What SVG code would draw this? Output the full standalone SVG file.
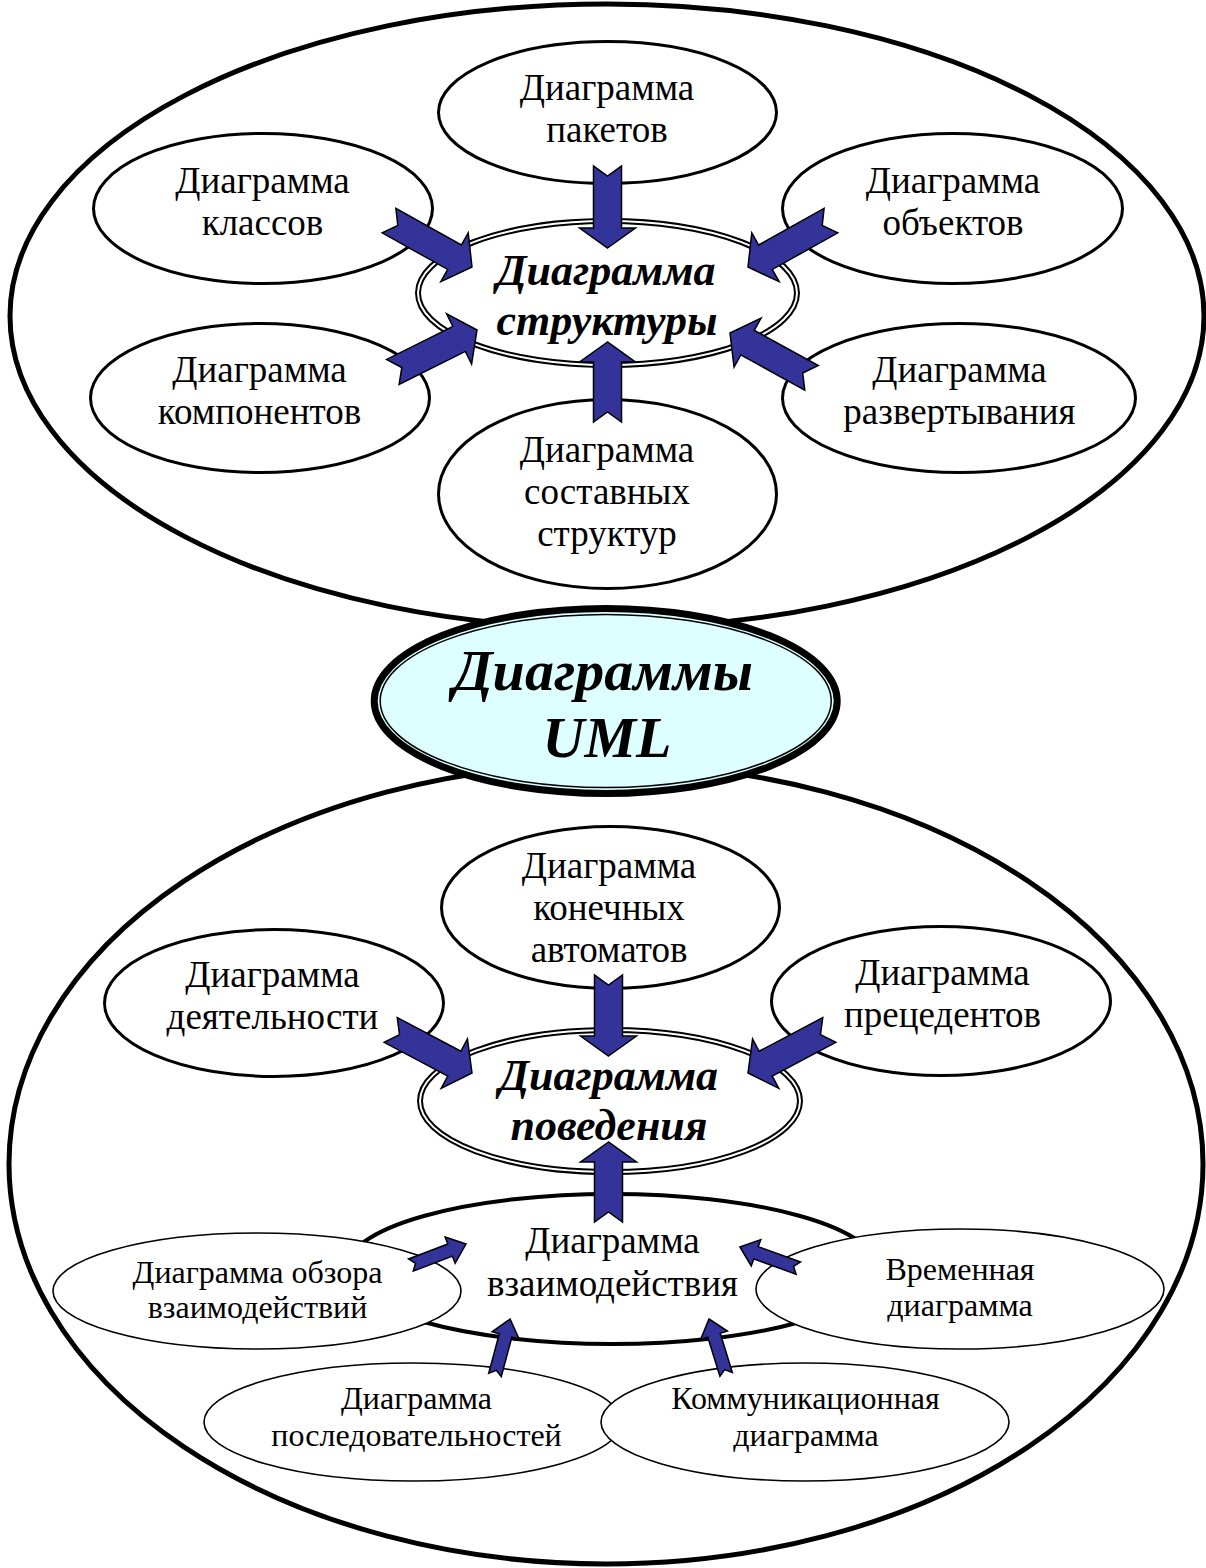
<svg xmlns="http://www.w3.org/2000/svg" width="1206" height="1568" viewBox="0 0 1206 1568">
  <style>
    .big { fill: none; stroke: #000; stroke-width: 5; }
    .node { fill: #fff; stroke: #000; stroke-width: 3; }
    .small { fill: #fff; stroke: #000; stroke-width: 1.6; }
    .mid { fill: #fff; stroke: #000; stroke-width: 4; }
    .dbl-out { fill: #fff; stroke: #000; stroke-width: 6; }
    .dbl-in { fill: none; stroke: #fff; stroke-width: 2; }
    .uml-out { fill: #ddffff; stroke: #000; stroke-width: 7; }
    .uml-in { fill: none; stroke: #000; stroke-width: 1.5; }
    .arrow { fill: #333399; stroke: #000; stroke-width: 1.5; stroke-linejoin: miter; }
    text { font-family: "Liberation Serif", "Times New Roman", serif; text-anchor: middle; fill: #000; }
    .t { font-size: 37px; }
    .ts { font-size: 32px; }
    .tb { font-size: 44px; font-weight: bold; font-style: italic; }
    .tu { font-size: 58px; font-weight: bold; font-style: italic; }
  </style>

  <!-- outer group outlines -->
  <g id="structure-group">
    <ellipse class="big" cx="607" cy="316" rx="597" ry="312"/>
  </g>
  <g id="behavior-group">
    <ellipse class="big" cx="606" cy="1164" rx="597" ry="400"/>
  </g>

  <!-- structure diagrams -->
  <g id="packages">
    <ellipse class="node" cx="607.5" cy="112.5" rx="169" ry="71"/>
    <text class="t" x="607" y="100">Диаграмма</text>
    <text class="t" x="607" y="142">пакетов</text>
  </g>
  <g id="classes">
    <ellipse class="node" cx="263" cy="208.5" rx="169.5" ry="75"/>
    <text class="t" x="262.5" y="193">Диаграмма</text>
    <text class="t" x="262.5" y="235">классов</text>
  </g>
  <g id="objects">
    <ellipse class="node" cx="952.5" cy="208.5" rx="170" ry="75"/>
    <text class="t" x="953" y="193">Диаграмма</text>
    <text class="t" x="953" y="235">объектов</text>
  </g>
  <g id="components">
    <ellipse class="node" cx="260" cy="398" rx="169.5" ry="74.5"/>
    <text class="t" x="259.5" y="382">Диаграмма</text>
    <text class="t" x="259.5" y="424">компонентов</text>
  </g>
  <g id="deployment">
    <ellipse class="node" cx="959" cy="398" rx="176.5" ry="74.5"/>
    <text class="t" x="959.5" y="382">Диаграмма</text>
    <text class="t" x="959.5" y="424">развертывания</text>
  </g>
  <g id="composite">
    <ellipse class="node" cx="607.5" cy="494" rx="169" ry="94.5"/>
    <text class="t" x="607" y="462">Диаграмма</text>
    <text class="t" x="607" y="504">составных</text>
    <text class="t" x="607" y="546">структур</text>
  </g>
  <g id="structure">
    <ellipse class="dbl-out" cx="607.5" cy="293" rx="189.5" ry="72"/>
    <ellipse class="dbl-in" cx="607.5" cy="293" rx="189.5" ry="72"/>
    <text class="tb" x="606" y="285">Диаграмма</text>
    <text class="tb" x="607" y="335">структуры</text>
  </g>

  <!-- root -->
  <g id="uml">
    <ellipse class="uml-out" cx="605.7" cy="701" rx="231.5" ry="92.5"/>
    <ellipse class="uml-in" cx="605.7" cy="701" rx="225.5" ry="86.5"/>
    <text class="tu" x="603" y="690">Диаграммы</text>
    <text class="tu" x="607" y="757">UML</text>
  </g>

  <!-- behavior diagrams -->
  <g id="state-machine">
    <ellipse class="node" cx="610.5" cy="907.5" rx="169" ry="81"/>
    <text class="t" x="609" y="878">Диаграмма</text>
    <text class="t" x="609" y="920">конечных</text>
    <text class="t" x="609" y="962">автоматов</text>
  </g>
  <g id="activity">
    <ellipse class="node" cx="274" cy="1003" rx="169.5" ry="73.5"/>
    <text class="t" x="272.5" y="987">Диаграмма</text>
    <text class="t" x="272.5" y="1029">деятельности</text>
  </g>
  <g id="use-case">
    <ellipse class="node" cx="941" cy="1001" rx="169.5" ry="74.5"/>
    <text class="t" x="942.5" y="985">Диаграмма</text>
    <text class="t" x="942.5" y="1027">прецедентов</text>
  </g>
  <g id="behavior">
    <ellipse class="dbl-out" cx="610" cy="1101" rx="190" ry="71"/>
    <ellipse class="dbl-in" cx="610" cy="1101" rx="190" ry="71"/>
    <text class="tb" x="608.5" y="1090">Диаграмма</text>
    <text class="tb" x="609" y="1140">поведения</text>
  </g>
  <g id="interaction">
    <ellipse class="mid" cx="612" cy="1269" rx="266" ry="75"/>
    <text class="t" x="612.5" y="1253">Диаграмма</text>
    <text class="t" x="612.5" y="1296">взаимодействия</text>
  </g>
  <g id="interaction-overview">
    <ellipse class="small" cx="257" cy="1291" rx="204" ry="58"/>
    <text class="ts" x="257.5" y="1283">Диаграмма обзора</text>
    <text class="ts" x="257.5" y="1318">взаимодействий</text>
  </g>
  <g id="timing">
    <ellipse class="small" cx="960" cy="1289" rx="204" ry="60"/>
    <text class="ts" x="960" y="1280">Временная</text>
    <text class="ts" x="960" y="1316">диаграмма</text>
  </g>
  <g id="sequence">
    <ellipse class="small" cx="413" cy="1422" rx="209" ry="59"/>
    <text class="ts" x="416.5" y="1409">Диаграмма</text>
    <text class="ts" x="416.5" y="1446">последовательностей</text>
  </g>
  <g id="communication">
    <ellipse class="small" cx="805" cy="1422" rx="204" ry="59"/>
    <text class="ts" x="805.5" y="1409">Коммуникационная</text>
    <text class="ts" x="806" y="1446">диаграмма</text>
  </g>

  <!-- block arrows: tip at the local origin, pointing along +x -->
  <g id="connectors">
    <polygon class="arrow" transform="translate(607.5,248) rotate(90)" points="0,0 -20,-28 -20,-14 -82,-14 -72,0 -82,14 -20,14 -20,28"/>
    <polygon class="arrow" transform="translate(607.5,342) rotate(-90)" points="0,0 -20,-28 -20,-14 -80,-14 -70,0 -80,14 -20,14 -20,28"/>
    <polygon class="arrow" transform="translate(472,267) rotate(29.2)" points="0,0 -20,-28 -20,-14 -95,-14 -85,0 -95,14 -20,14 -20,28"/>
    <polygon class="arrow" transform="translate(748,267) rotate(150.8)" points="0,0 -20,-28 -20,-14 -95,-14 -85,0 -95,14 -20,14 -20,28"/>
    <polygon class="arrow" transform="translate(477,330) rotate(-26.5)" points="0,0 -20,-28 -20,-14 -94,-14 -84,0 -94,14 -20,14 -20,28"/>
    <polygon class="arrow" transform="translate(730,333) rotate(208.8)" points="0,0 -20,-28 -20,-14 -93,-14 -83,0 -93,14 -20,14 -20,28"/>

    <polygon class="arrow" transform="translate(608.5,1056) rotate(90)" points="0,0 -20,-28 -20,-14 -81,-14 -71,0 -81,14 -20,14 -20,28"/>
    <polygon class="arrow" transform="translate(472,1073) rotate(27.9)" points="0,0 -20,-28 -20,-14 -92,-14 -82,0 -92,14 -20,14 -20,28"/>
    <polygon class="arrow" transform="translate(748,1073) rotate(152.1)" points="0,0 -20,-28 -20,-14 -92,-14 -82,0 -92,14 -20,14 -20,28"/>
    <polygon class="arrow" transform="translate(608.5,1142) rotate(-90)" points="0,0 -20,-28 -20,-14 -80,-14 -70,0 -80,14 -20,14 -20,28"/>

    <polygon class="arrow" transform="translate(466,1244) rotate(-20.9)" points="0,0 -17,-14 -17,-6.5 -59,-6.5 -54,0 -59,6.5 -17,6.5 -17,14"/>
    <polygon class="arrow" transform="translate(740,1247) rotate(199.9)" points="0,0 -17,-14 -17,-6.5 -62,-6.5 -57,0 -62,6.5 -17,6.5 -17,14"/>
    <polygon class="arrow" transform="translate(510,1319) rotate(-75)" points="0,0 -17,-14 -17,-6.5 -58,-6.5 -53,0 -58,6.5 -17,6.5 -17,14"/>
    <polygon class="arrow" transform="translate(709,1319) rotate(252.8)" points="0,0 -17,-14 -17,-6.5 -58,-6.5 -53,0 -58,6.5 -17,6.5 -17,14"/>
  </g>
</svg>
